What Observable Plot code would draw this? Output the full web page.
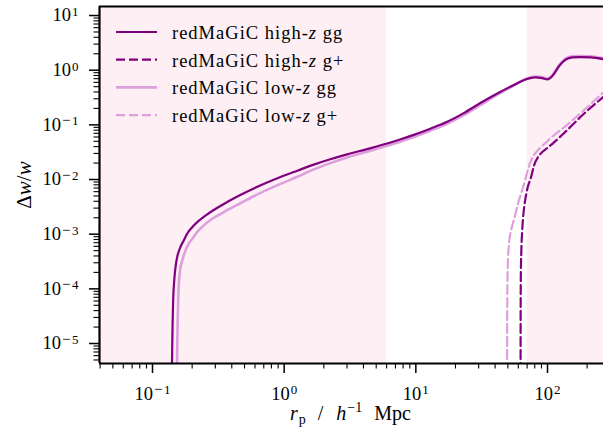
<!DOCTYPE html>
<html><head><meta charset="utf-8">
<script src="https://cdn.jsdelivr.net/npm/d3@7"></script>
<script src="https://cdn.jsdelivr.net/npm/@observablehq/plot@0.6"></script>
<style>
body{margin:0;background:#fff}
#chart{width:603px;height:432px}
</style>
</head><body><div id="chart"></div>
<script>
// ---- data ----
const rpHighGG = [0.1406,0.1413,0.1422,0.1435,0.1462,0.1496,0.1549,0.1633,0.1738,0.1832,0.1995,0.2188,0.2449,0.302,0.369,0.468,0.587,0.741,0.938,1.259,1.679,2.239,3.006,4.266,6.053,7.586,9.638,12.88,17.30,22.91,30.90,43.65,54.95,64.57,72.44,81.28,91.2,100,107.2,114.8,123.0,131.8,141.3,154.9,177.8,213.8,239.9,269.2];
const dwHighGG = [3.98e-6,1e-5,2.5e-5,6.2e-5,1.41e-4,2.51e-4,4.07e-4,5.89e-4,7.94e-4,1.02e-3,1.33e-3,1.66e-3,2.07e-3,2.92e-3,3.87e-3,5.25e-3,6.87e-3,8.81e-3,0.01114,0.01452,0.01871,0.02344,0.02884,0.03606,0.0455,0.0540,0.0656,0.0851,0.1135,0.1622,0.2512,0.40,0.53,0.64,0.708,0.741,0.716,0.679,0.75,0.933,1.20,1.445,1.62,1.72,1.74,1.72,1.66,1.585];

const rpLowGG = [0.1536,0.1542,0.1552,0.1567,0.1585,0.1622,0.1683,0.1778,0.1888,0.2042,0.2188,0.2449,0.2761,0.302,0.369,0.468,0.587,0.741,0.938,1.259,1.679,2.239,3.006,4.266,6.053,7.586,9.638,12.88,17.30,22.91,30.90,43.65,54.95,64.57,72.44,81.28,91.2,100,107.2,114.8,123.0,131.8,141.3,154.9,177.8,213.8,239.9,269.2];
const dwLowGG = [3.98e-6,1e-5,2.51e-5,6.31e-5,1.26e-4,2.24e-4,3.31e-4,5.01e-4,6.76e-4,8.71e-4,1.10e-3,1.45e-3,1.82e-3,2.09e-3,2.75e-3,3.72e-3,4.95e-3,6.46e-3,8.32e-3,0.01122,0.01531,0.01995,0.02541,0.03236,0.0413,0.0492,0.060,0.0782,0.1047,0.1486,0.229,0.380,0.518,0.646,0.724,0.767,0.746,0.708,0.785,0.977,1.259,1.507,1.690,1.791,1.811,1.791,1.730,1.652];

const rpHighGp = [62.45,62.5,62.6,62.8,63.3,64.3,65.5,67.5,70.5,75,79,88,100,110,133,189,268];
const dwHighGp = [3e-6,2e-5,8e-5,2.2e-4,5e-4,1.2e-3,2.2e-3,4e-3,7e-3,0.011,0.018,0.029,0.038,0.046,0.07,0.16,0.33];

const rpLowGp = [49.35,49.4,49.55,49.9,50.8,53,55.5,60,65,74.3,85,95,102,141,200,268];
const dwLowGp = [3e-6,2e-5,8e-5,2.5e-4,6e-4,1.2e-3,1.8e-3,3.8e-3,7e-3,0.021,0.035,0.045,0.053,0.1,0.21,0.40];

const seriesLabels = ["redMaGiC high-|z| gg", "redMaGiC high-|z| g+", "redMaGiC low-|z| gg", "redMaGiC low-|z| g+"];

const xDomain = [0.03957, 266.3];
const yDomain = [4.31e-6, 14.63];
const shadeLo = [xDomain[0], 70];
const shadeHi = [6, xDomain[1]];

const xMajor = [0.1, 1, 10, 100];
const yMajor = [1e-5, 1e-4, 1e-3, 1e-2, 1e-1, 1, 10];

// ---- helpers ----
function minorTicks(domain) {
  const out = [];
  for (let e = -7; e <= 3; e++) for (let m = 2; m <= 9; m++) {
    const v = m * Math.pow(10, e);
    if (v >= domain[0] && v <= domain[1]) out.push(v);
  }
  return out;
}
const fmtPow = v => "10^" + Math.round(Math.log10(v));
const toRows = (xs, ys) => xs.map((x, i) => ({x, y: ys[i]}));

const DARK = "#800080", LIGHT = "#dda0dd";
const styles = [
  {stroke: DARK, strokeWidth: 2.2, dash: null},
  {stroke: DARK, strokeWidth: 2.2, dash: "9,4"},
  {stroke: LIGHT, strokeWidth: 2.6, dash: null},
  {stroke: LIGHT, strokeWidth: 2.2, dash: "9,4"}
];
const seriesData = [
  toRows(rpHighGG, dwHighGG),
  toRows(rpHighGp, dwHighGp),
  toRows(rpLowGG, dwLowGG),
  toRows(rpLowGp, dwLowGp)
];
const drawOrder = [3, 2, 1, 0];

const bands = shadeLo.map((lo, i) => ({lo, hi: shadeHi[i]}));
const FONT = "'Liberation Serif', 'DejaVu Serif', serif";

const plot = Plot.plot({
  width: 603,
  height: 432,
  marginLeft: 99,
  marginRight: 0,
  marginTop: 6,
  marginBottom: 69,
  style: {fontFamily: FONT, fontSize: "18.5px", background: "#fff", color: "#000"},
  x: {type: "log", domain: xDomain, label: null},
  y: {type: "log", domain: yDomain, label: null},
  marks: [
    Plot.rect(bands, {x1: "lo", x2: "hi", fill: "#fdeff3"}),
    ...drawOrder.map(i => Plot.line(seriesData[i], {
      x: "x", y: "y", stroke: styles[i].stroke, strokeWidth: styles[i].strokeWidth,
      strokeDasharray: styles[i].dash, curve: "monotone-x", clip: true
    })),
    Plot.axisX({ticks: minorTicks(xDomain), tickSize: 5.5, strokeWidth: 1.1, tickFormat: () => "", label: null}),
    Plot.axisX({ticks: xMajor, tickSize: 10, tickPadding: 13, strokeWidth: 1.5, tickFormat: fmtPow, label: null, fontSize: 18.5}),
    Plot.axisY({ticks: minorTicks(yDomain), tickSize: 5.5, strokeWidth: 1.1, tickFormat: () => "", label: null}),
    Plot.axisY({ticks: yMajor, tickSize: 10, tickPadding: 11, strokeWidth: 1.5, tickFormat: fmtPow, label: null, fontSize: 18.5}),
    Plot.ruleX([xDomain[0]], {strokeWidth: 2.2}),
    Plot.ruleY([yDomain[0]], {strokeWidth: 2.2}),
    Plot.ruleY([yDomain[1]], {strokeWidth: 2.2})
  ]
});
document.getElementById("chart").appendChild(plot);

const svg = d3.select(plot);
// superscript tick labels
svg.selectAll("text").each(function() {
  const t = this.textContent;
  const m = /^10\^(-?\d+)$/.exec(t);
  if (!m) return;
  const el = d3.select(this);
  el.selectAll("*").remove();
  el.text(null);
  el.attr("font-size", "18.5px");
  el.append("tspan").text("10");
  const neg = m[1].startsWith("-");
  const sup = el.append("tspan").attr("dx", "1").attr("dy", "-0.42em").attr("font-size", "13px");
  if (neg) {
    sup.append("tspan").attr("font-size", "15px").text("\u2212");
    sup.append("tspan").attr("dx", "1.5").text(m[1].slice(1));
  } else {
    sup.text(m[1]);
  }
});

// axis labels
const xl = svg.append("text").attr("x", 290).attr("y", 420).attr("text-anchor", "start")
  .attr("font-family", FONT).attr("font-size", "20px");
xl.append("tspan").attr("font-style", "italic").text("r");
xl.append("tspan").attr("font-size", "14px").attr("dx", "1").attr("dy", "4").text("p");
xl.append("tspan").attr("dx", "12").attr("dy", "-4").text("/");
xl.append("tspan").attr("dx", "13").attr("font-style", "italic").text("h");
xl.append("tspan").attr("font-size", "14px").attr("dx", "1").attr("dy", "-8").text("\u22121");
xl.append("tspan").attr("dx", "12").attr("dy", "8").text("Mpc");

const yl = svg.append("text").attr("transform", "translate(31,185) rotate(-90)").attr("text-anchor", "middle")
  .attr("font-family", FONT).attr("font-size", "21px");
yl.append("tspan").text("\u0394");
yl.append("tspan").attr("font-style", "italic").text("w");
yl.append("tspan").text("/");
yl.append("tspan").attr("font-style", "italic").text("w");

// legend
const lg = svg.append("g").attr("font-family", FONT).attr("font-size", "18.5px").attr("text-anchor", "start");
seriesLabels.forEach((lab, i) => {
  const y = 32 + i * 27.7;
  const s = styles[i];
  lg.append("line").attr("x1", 116).attr("x2", 157).attr("y1", y).attr("y2", y)
    .attr("stroke", s.stroke).attr("stroke-width", s.strokeWidth)
    .attr("stroke-dasharray", s.dash);
  const parts = lab.split("|");
  const t = lg.append("text").attr("x", 172).attr("y", y + 7).attr("letter-spacing", "1px");
  t.append("tspan").text(parts[0]);
  t.append("tspan").attr("font-style", "italic").text(parts[1]);
  t.append("tspan").text(parts[2]);
});
</script>
</body></html>
